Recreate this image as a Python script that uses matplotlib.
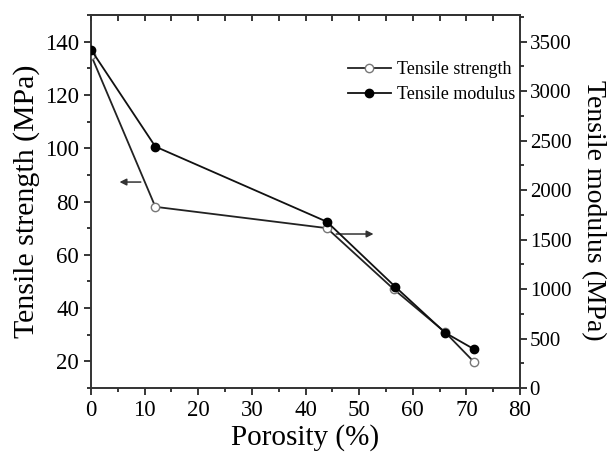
import matplotlib
matplotlib.use("Agg")
import matplotlib.pyplot as plt
from matplotlib.ticker import MultipleLocator

porosity = [0, 12, 44, 56.5, 66, 71.5]
strength = [135, 78, 70, 47, 31, 19.6]
porosity_mod = [0, 12, 44, 56.7, 66, 71.5]
modulus = [3420, 2440, 1680, 1025, 560, 390]

plt.rcParams['font.family'] = ['Liberation Serif', 'DejaVu Serif']

fig = plt.figure(figsize=(6.1, 4.59), dpi=100)
ax = fig.add_axes([91/610, 1-388/459, (520-91)/610, (388-15)/459])
ax2 = ax.twinx()

l1, = ax.plot(porosity, strength, '-', color='#222222', lw=1.3, marker='o',
              ms=6, mfc='white', mec='#777777', mew=1.0, label='Tensile strength', zorder=3)
l2, = ax2.plot(porosity_mod, modulus, '-', color='#111111', lw=1.3, marker='o',
               ms=6, mfc='black', mec='black', label='Tensile modulus', zorder=4)

ax.set_xlim(0, 80)
ax.set_ylim(10, 150)
ax2.set_ylim(0, 3770)

ax.xaxis.set_major_locator(MultipleLocator(10))
ax.xaxis.set_minor_locator(MultipleLocator(5))
ax.yaxis.set_major_locator(MultipleLocator(20))
ax.yaxis.set_minor_locator(MultipleLocator(10))
ax2.yaxis.set_major_locator(MultipleLocator(500))
ax2.yaxis.set_minor_locator(MultipleLocator(250))

ax.tick_params(axis='x', which='both', direction='out', labelsize=16.5, length=5, width=1.1)
ax.tick_params(axis='x', which='minor', length=3)
ax.tick_params(axis='y', which='both', direction='out', labelsize=16.5, length=5, width=1.1)
ax.tick_params(axis='y', which='minor', length=3)
ax2.tick_params(axis='y', which='both', direction='out', labelsize=15, length=5, width=1.1, pad=2)
ax2.tick_params(axis='y', which='minor', length=3)
sec = ax.secondary_xaxis('top')
sec.xaxis.set_major_locator(MultipleLocator(10))
sec.xaxis.set_minor_locator(MultipleLocator(5))
sec.tick_params(axis='x', which='both', direction='in', labeltop=False, length=4, width=1.1)
sec.spines['top'].set_linewidth(1.2)
sec.spines['top'].set_color('#333333')
for a in (ax, ax2):
    for s in a.spines.values():
        s.set_linewidth(1.2)
        s.set_color('#333333')

ax.set_xlabel('Porosity (%)', fontsize=21, labelpad=2)
ax.set_ylabel('Tensile strength (MPa)', fontsize=21.5, labelpad=4)
fig.text(593/610, 1-210/459, 'Tensile modulus (MPa)', fontsize=20, rotation=270,
         ha='center', va='center')

# direction arrows
ax.annotate('', xy=(4.8, 87.3), xytext=(9.8, 87.3),
            arrowprops=dict(arrowstyle='-|>', color='#333333', lw=1.1, mutation_scale=10))
ax.annotate('', xy=(53.2, 67.8), xytext=(45.2, 67.8),
            arrowprops=dict(arrowstyle='-|>', color='#333333', lw=1.1, mutation_scale=10))

leg = ax2.legend(handles=[l1, l2], loc='upper right', bbox_to_anchor=(1.015, 0.905),
                 frameon=False, fontsize=13, handlelength=2.4, handletextpad=0.35,
                 labelspacing=0.45, borderaxespad=0.2)

fig.savefig('out.png', dpi=100)
